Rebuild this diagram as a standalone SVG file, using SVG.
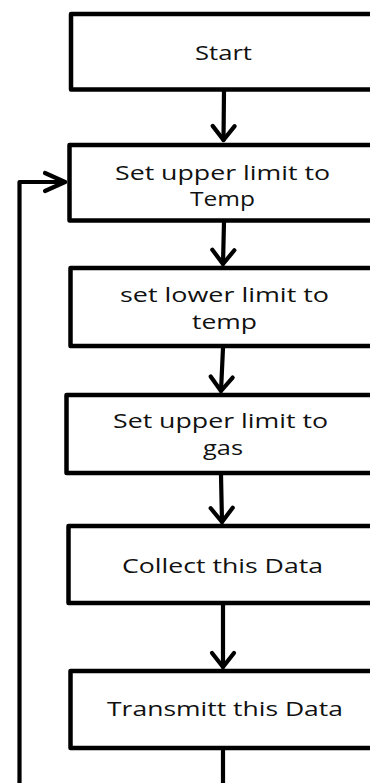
<svg xmlns="http://www.w3.org/2000/svg" width="370" height="783" viewBox="0 0 370 783">
<defs>
<style>
.box{fill:#fff;stroke:#000;stroke-width:4.5;stroke-linejoin:round}
.lbl{font-family:"Open Sans","Liberation Sans",sans-serif;font-size:20.5px;fill:#111;text-anchor:middle}
.conn{fill:none;stroke:#000;stroke-width:4.2;stroke-linecap:round;stroke-linejoin:round}
.head{fill:none;stroke:#000;stroke-width:4.2;stroke-linecap:round;stroke-linejoin:round}
</style>
<marker id="arrV" viewBox="-20 -14 24 28" refX="0" refY="0" markerWidth="24" markerHeight="28" markerUnits="userSpaceOnUse" orient="auto">
<path class="head" d="M-14,-11 L0,0 L-14,11"/>
</marker>
<marker id="arrH" viewBox="-24 -12 28 24" refX="0" refY="0" markerWidth="28" markerHeight="24" markerUnits="userSpaceOnUse" orient="auto">
<path class="head" d="M-20,-9 L0,0 L-20,9"/>
</marker>
</defs>
<rect width="370" height="783" fill="#fff"/>
<g id="n1">
<rect class="box" x="71" y="14" width="310" height="75.5"/>
<text class="lbl" x="223.5" y="60" textLength="57" lengthAdjust="spacingAndGlyphs">Start</text>
</g>
<g id="n2">
<rect class="box" x="69.5" y="145" width="310" height="75.5"/>
<text class="lbl" x="222.5" y="180" textLength="215" lengthAdjust="spacingAndGlyphs">Set upper limit to</text>
<text class="lbl" x="222.5" y="206" textLength="65" lengthAdjust="spacingAndGlyphs">Temp</text>
</g>
<g id="n3">
<rect class="box" x="70.5" y="268" width="310" height="78"/>
<text class="lbl" x="224.5" y="302" textLength="209" lengthAdjust="spacingAndGlyphs">set lower limit to</text>
<text class="lbl" x="224.5" y="329" textLength="65" lengthAdjust="spacingAndGlyphs">temp</text>
</g>
<g id="n4">
<rect class="box" x="66.5" y="395" width="310" height="78"/>
<text class="lbl" x="220.5" y="428" textLength="215" lengthAdjust="spacingAndGlyphs">Set upper limit to</text>
<text class="lbl" x="223" y="455" textLength="40" lengthAdjust="spacingAndGlyphs">gas</text>
</g>
<g id="n5">
<rect class="box" x="68.5" y="526" width="310" height="77"/>
<text class="lbl" x="222.5" y="573" textLength="201" lengthAdjust="spacingAndGlyphs">Collect this Data</text>
</g>
<g id="n6">
<rect class="box" x="70.5" y="671" width="310" height="77"/>
<text class="lbl" x="225" y="716" textLength="236" lengthAdjust="spacingAndGlyphs">Transmitt this Data</text>
</g>
<g id="connectors">
<path class="conn" d="M224,91 L223.5,140" marker-end="url(#arrV)"/>
<path class="conn" d="M224,222 L223,264" marker-end="url(#arrV)"/>
<path class="conn" d="M223,348 L221,391" marker-end="url(#arrV)"/>
<path class="conn" d="M221,475 L222,522" marker-end="url(#arrV)"/>
<path class="conn" d="M223,605 L223,667" marker-end="url(#arrV)"/>
<path class="conn" d="M223,750 L223,790"/>
<path class="conn" d="M19.5,790 L19.5,182 L65,182" marker-end="url(#arrH)"/>
</g>
</svg>
